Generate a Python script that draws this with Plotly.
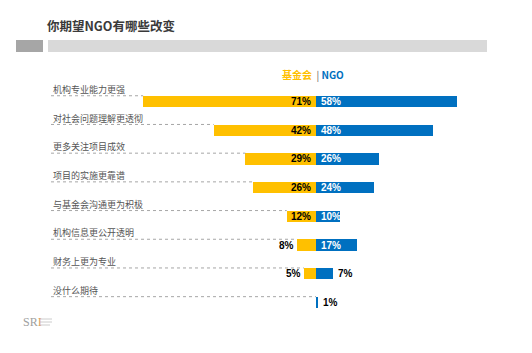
import plotly.graph_objects as go

categories = ["机构专业能力更强", "对社会问题理解更透彻", "更多关注项目成效", "项目的实施更靠谱",
              "与基金会沟通更为积极", "机构信息更公开透明", "财务上更为专业", "没什么期待"]
foundation = [71, 42, 29, 26, 12, 8, 5, 0]
ngo = [58, 48, 26, 24, 10, 17, 7, 1]

YELLOW = "#FFC000"
BLUE = "#0070C0"
W, H = 532, 353
cx = 316.0          # pixel of zero line
ppu = 2.435         # pixels per percent
row0 = 101.5        # pixel center of first row
rowh = 28.7         # pixels per row

xmin = -cx / ppu
xmax = (W - cx) / ppu
ytop = -row0 / rowh
ybot = (H - row0) / rowh

def px2x(p):
    return (p - cx) / ppu

ys = list(range(len(categories)))

fig = go.Figure()
fig.add_trace(go.Bar(y=ys, x=[-v for v in foundation], orientation="h",
                     marker=dict(color=YELLOW, line=dict(width=0)), width=0.39,
                     hoverinfo="skip", showlegend=False))
fig.add_trace(go.Bar(y=ys, x=ngo, orientation="h",
                     marker=dict(color=BLUE, line=dict(width=0)), width=0.39,
                     hoverinfo="skip", showlegend=False))

ann = []
shapes = []
lab_font = dict(family="Liberation Sans, Arial", size=10, color="black")
for i, (c, f, n) in enumerate(zip(categories, foundation, ngo)):
    ann.append(dict(x=px2x(51), y=i - 0.42, xref="x", yref="y", text=c, showarrow=False,
                    xanchor="left", yanchor="middle",
                    font=dict(family="Noto Sans CJK SC", size=9, color="#555555")))
    shapes.append(dict(type="line", xref="x", yref="y", x0=px2x(51), x1=-f if f > 0 else 0,
                       y0=i - 0.2, y1=i - 0.2,
                       line=dict(color="#A6A6A6", width=1, dash="dot")))
    if f > 0:
        if f >= 10:
            ann.append(dict(x=0, y=i, xref="x", yref="y", text="<b>%d%%</b>" % f, showarrow=False,
                            xanchor="right", xshift=-3, yanchor="middle", font=lab_font))
        else:
            ann.append(dict(x=-f, y=i, xref="x", yref="y", text="<b>%d%%</b>" % f, showarrow=False,
                            xanchor="right", xshift=-1, yanchor="middle", font=lab_font))
    if n >= 10:
        ann.append(dict(x=0, y=i, xref="x", yref="y", text="<b>%d%%</b>" % n, showarrow=False,
                        xanchor="left", xshift=3, yanchor="middle",
                        font=dict(family="Liberation Sans, Arial", size=10, color="white")))
    else:
        ann.append(dict(x=n, y=i, xref="x", yref="y", text="<b>%d%%</b>" % n, showarrow=False,
                        xanchor="left", xshift=3, yanchor="middle", font=lab_font))

# legend
ann.append(dict(x=312.5 / W, y=1 - 74 / H, xref="paper", yref="paper", showarrow=False,
                xanchor="center", yanchor="middle",
                text="<b><span style='color:%s'>基金会</span></b>  <span style='color:#595959'>|</span> <b><span style='color:%s'>NGO</span></b>" % (YELLOW, BLUE),
                font=dict(family="Noto Sans CJK SC", size=10)))
# title
ann.append(dict(x=45 / W, y=1 - 25 / H, xref="paper", yref="paper", showarrow=False,
                xanchor="left", yanchor="middle", text="<b>你期望NGO有哪些改变</b>",
                font=dict(family="Noto Sans CJK SC", size=12.5, color="#3a3a3a")))
# logo
ann.append(dict(x=21 / W, y=1 - 322 / H, xref="paper", yref="paper", showarrow=False,
                xanchor="left", yanchor="middle", text="SR<span style='color:#d9a066'>I</span>",
                font=dict(family="Liberation Serif, DejaVu Serif", size=12, color="#a0a0a0")))

# header blocks
shapes.append(dict(type="rect", xref="paper", yref="paper", x0=16 / W, x1=43 / W,
                   y0=1 - 52 / H, y1=1 - 40 / H, fillcolor="#A6A6A6", line=dict(width=0)))
shapes.append(dict(type="rect", xref="paper", yref="paper", x0=48 / W, x1=487 / W,
                   y0=1 - 52 / H, y1=1 - 40 / H, fillcolor="#D9D9D9", line=dict(width=0)))
# logo small lines
for k in range(3):
    shapes.append(dict(type="line", xref="paper", yref="paper", x0=40 / W, x1=(52 - 2 * (k == 2)) / W,
                       y0=1 - (319 + 3 * k) / H, y1=1 - (319 + 3 * k) / H,
                       line=dict(color="#cccccc", width=1)))

fig.update_layout(
    width=W, height=H, margin=dict(l=0, r=0, t=0, b=0),
    paper_bgcolor="white", plot_bgcolor="white",
    barmode="overlay", bargap=0,
    xaxis=dict(range=[xmin, xmax], visible=False, fixedrange=True),
    yaxis=dict(range=[ybot, ytop], visible=False, fixedrange=True),
    annotations=ann, shapes=shapes,
)
fig.write_html("out.html")
